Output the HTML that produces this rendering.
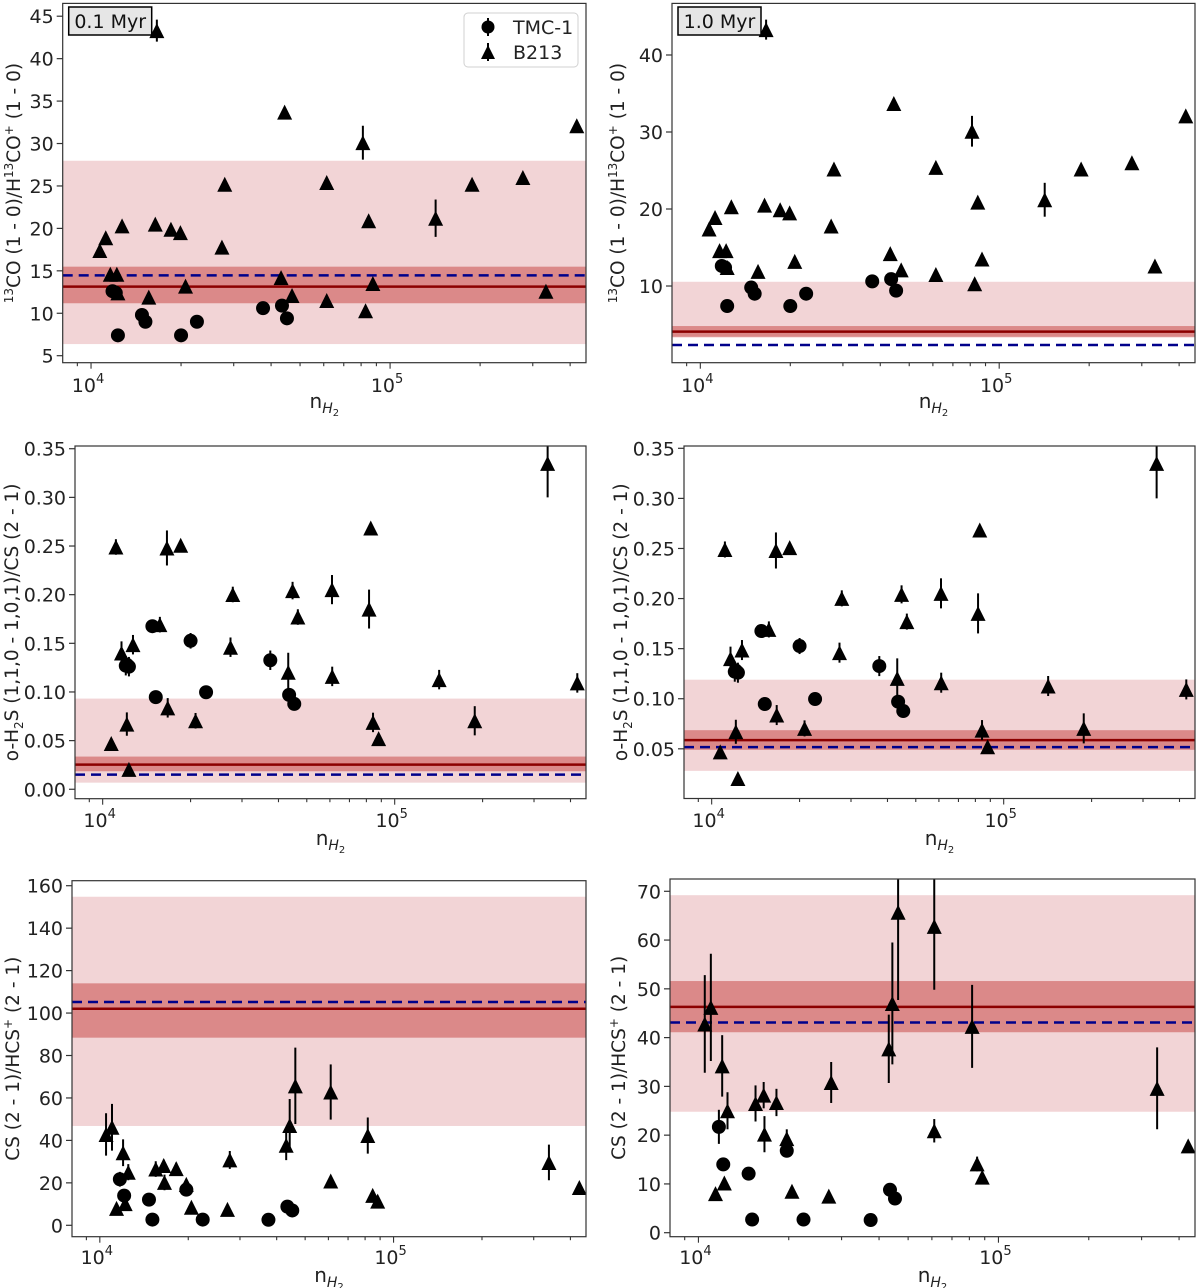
<!DOCTYPE html>
<html><head><meta charset="utf-8">
<style>
html,body{margin:0;padding:0;background:#fff;}
svg{display:block;font-family:"DejaVu Sans","Liberation Sans",sans-serif;}
</style></head>
<body>
<svg id="fig" width="1200" height="1288" viewBox="0 0 1200 1288" xmlns="http://www.w3.org/2000/svg"></svg>
<script>
// ---- data ----
const row1CircX = [1.18e4,1.21e4,1.23e4,1.48e4,1.52e4,2.0e4,2.26e4,3.76e4,4.35e4,4.52e4];
const row1CircY = [12.6,12.4,7.4,9.8,9.0,7.4,9.0,10.6,10.9,9.4];
const row1CircE = [0.3,0.3,0.3,0.3,0.3,0.3,0.3,0.3,0.3,0.3];
const row1TriX = [1.07e4,1.12e4,1.16e4,1.22e4,1.23e4,1.27e4,1.56e4,1.64e4,1.66e4,1.85e4,1.99e4,2.07e4,2.74e4,2.80e4,4.32e4,4.44e4,4.70e4,6.14e4,6.14e4,8.11e4,8.28e4,8.48e4,8.76e4,1.42e5,1.88e5,2.78e5,3.32e5,4.21e5];
const row1TriY = [17.4,18.9,14.6,14.6,12.4,20.3,11.9,20.5,43.3,19.9,19.5,13.2,17.8,25.2,14.2,33.7,12.1,25.4,11.5,30.1,10.3,20.9,13.5,21.2,25.2,26.0,12.6,32.1];
const row1TriE = [0.4,0.4,0.4,0.4,0.4,0.4,0.4,0.5,1.3,0.4,0.4,0.4,0.4,0.4,0.4,0.5,0.4,0.4,0.4,2.0,0.4,0.4,0.4,2.2,0.4,0.4,0.4,0.4];

const row2CircX = [1.20e4,1.21e4,1.23e4,1.48e4,1.52e4,2.0e4,2.26e4,3.75e4,4.35e4,4.53e4];
const row2CircY = [0.127,0.128,0.126,0.1676,0.0947,0.1526,0.0997,0.1326,0.097,0.0877];
const row2CircE = [0.01,0.003,0.01,0.004,0.003,0.008,0.003,0.01,0.003,0.003];
const row2TriX = [1.07e4,1.11e4,1.16e4,1.21e4,1.23e4,1.27e4,1.57e4,1.66e4,1.67e4,1.85e4,2.08e4,2.74e4,2.79e4,4.32e4,4.47e4,4.66e4,6.10e4,6.11e4,8.17e4,8.28e4,8.43e4,8.81e4,1.42e5,1.88e5,3.34e5,4.22e5];
const row2TriY = [0.047,0.249,0.140,0.067,0.0204,0.1486,0.1692,0.248,0.0837,0.2508,0.0704,0.146,0.2002,0.1203,0.2042,0.177,0.2052,0.116,0.1852,0.2685,0.0687,0.052,0.1127,0.0704,0.335,0.1093];
const row2TriE = [0.004,0.008,0.012,0.012,0.003,0.01,0.008,0.018,0.01,0.003,0.008,0.01,0.008,0.02,0.009,0.008,0.015,0.01,0.02,0.005,0.01,0.004,0.01,0.015,0.035,0.01];

const row3CircX = [1.17e4,1.21e4,1.47e4,1.51e4,1.97e4,2.24e4,3.75e4,4.35e4,4.52e4];
const row3CircY = [21.7,14.0,12.1,2.7,16.8,2.7,2.6,8.8,7.0];
const row3CircE = [3.5,0.5,0.5,0.3,1.0,0.3,0.3,0.5,0.5];
const row3TriX = [1.05e4,1.10e4,1.14e4,1.20e4,1.22e4,1.25e4,1.55e4,1.65e4,1.66e4,1.82e4,1.97e4,2.05e4,2.72e4,2.77e4,4.31e4,4.43e4,4.63e4,6.11e4,6.11e4,8.17e4,8.49e4,8.83e4,3.38e5,4.29e5];
const row3TriY = [42.8,46.2,8.0,34.2,10.2,25.0,26.5,28.2,20.2,26.7,19.3,8.5,7.5,30.8,37.7,47.0,65.7,62.8,20.9,42.3,14.1,11.4,29.6,17.8];
const row3TriE = [10,11,0.3,6.3,0.5,3.8,3.7,2.7,3.7,2.8,1.9,0.3,0.3,4.2,7,12.5,18,13,2.4,8.5,1.5,0.5,8.4,1];

// model bands: [lightLo, lightHi, darkLo, darkHi, solid, dashed]
const bandsP1 = [6.37,27.97,11.18,15.49,13.14,14.47];
const bandsP2 = [3.3,10.55,3.4,4.8,4.07,2.34];
const bandsP3 = [0.0068,0.0932,0.0185,0.0336,0.0253,0.0151];
const bandsP4 = [0.028,0.119,0.049,0.0686,0.0587,0.0517];
const bandsP5 = [46.8,154.8,88.4,114,102,105.2];
const bandsP6 = [24.8,69.2,41.1,51.6,46.3,43.1];

const yTicksP1 = [5,10,15,20,25,30,35,40,45];
const yTicksP2 = [10,20,30,40];
const yTicksP3 = [0,0.05,0.10,0.15,0.20,0.25,0.30,0.35];
const yTicksP4 = [0.05,0.10,0.15,0.20,0.25,0.30,0.35];
const yTicksP5 = [0,20,40,60,80,100,120,140,160];
const yTicksP6 = [0,10,20,30,40,50,60,70];
const xLim = [8.04e3, 4.52e5];

const NS = "http://www.w3.org/2000/svg";
const svg = document.getElementById('fig');
function mk(tag, attrs, parent){
  const e = document.createElementNS(NS, tag);
  for (const k in attrs) e.setAttribute(k, attrs[k]);
  (parent||svg).appendChild(e);
  return e;
}
const TF = 19;

const panels = [
  {id:'p1',L:62.7,R:586,T:3.4,B:362.7,y0:4.175,y1:46.51,ticks:yTicksP1,dec:0,cx:row1CircX,cy:row1CircY,ce:row1CircE,tx:row1TriX,ty:row1TriY,te:row1TriE,bands:bandsP1,ylab:'r1',ylx:12,xly:403,xtly:385,tag:'0.1 Myr',legend:true},
  {id:'p2',L:672,R:1195,T:3.4,B:362.7,y0:0.04,y1:46.7,ticks:yTicksP2,dec:0,cx:row1CircX,cy:row1CircY,ce:row1CircE,tx:row1TriX,ty:row1TriY,te:row1TriE,bands:bandsP2,ylab:'r1',ylx:616,xly:403,xtly:385,tag:'1.0 Myr'},
  {id:'p3',L:75,R:586,T:446,B:798.7,y0:-0.0097,y1:0.3528,ticks:yTicksP3,dec:2,cx:row2CircX,cy:row2CircY,ce:row2CircE,tx:row2TriX,ty:row2TriY,te:row2TriE,bands:bandsP3,ylab:'r2',ylx:10,xly:840,xtly:820},
  {id:'p4',L:684,R:1195,T:446,B:798.5,y0:0.0004,y1:0.3523,ticks:yTicksP4,dec:2,cx:row2CircX,cy:row2CircY,ce:row2CircE,tx:row2TriX,ty:row2TriY,te:row2TriE,bands:bandsP4,ylab:'r2',ylx:619,xly:840,xtly:820},
  {id:'p5',L:72,R:586,T:880.7,B:1236.7,y0:-5.37,y1:162.36,ticks:yTicksP5,dec:0,cx:row3CircX,cy:row3CircY,ce:row3CircE,tx:row3TriX,ty:row3TriY,te:row3TriE,bands:bandsP5,ylab:'r3',ylx:11,xly:1277,xtly:1257},
  {id:'p6',L:670,R:1195,T:879,B:1236.7,y0:-0.82,y1:72.52,ticks:yTicksP6,dec:0,cx:row3CircX,cy:row3CircY,ce:row3CircE,tx:row3TriX,ty:row3TriY,te:row3TriE,bands:bandsP6,ylab:'r3',ylx:617,xly:1277,xtly:1257}
];

function ylabelText(t, kind){
  if (kind==='r1'){
    let s=mk('tspan',{'font-size':'12','dy':'-7'},t); s.textContent='13';
    s=mk('tspan',{'dy':'7'},t); s.textContent='CO (1 - 0)/H';
    s=mk('tspan',{'font-size':'12','dy':'-7'},t); s.textContent='13';
    s=mk('tspan',{'dy':'7'},t); s.textContent='CO';
    s=mk('tspan',{'font-size':'12','dy':'-7'},t); s.textContent='+';
    s=mk('tspan',{'dy':'7'},t); s.textContent=' (1 - 0)';
  } else if (kind==='r2'){
    let s=mk('tspan',{},t); s.textContent='o-H';
    s=mk('tspan',{'font-size':'12','dy':'5'},t); s.textContent='2';
    s=mk('tspan',{'dy':'-5'},t); s.textContent='S (1,1,0 - 1,0,1)/CS (2 - 1)';
  } else {
    let s=mk('tspan',{},t); s.textContent='CS (2 - 1)/HCS';
    s=mk('tspan',{'font-size':'12','dy':'-7'},t); s.textContent='+';
    s=mk('tspan',{'dy':'7'},t); s.textContent=' (2 - 1)';
  }
}

function triPts(x,y,h){ return `${x},${y-h} ${x-h},${y+h} ${x+h},${y+h}`; }

panels.forEach((p,pi)=>{
  const g = mk('g',{});
  
  
  const lx0=Math.log10(xLim[0]), lx1=Math.log10(xLim[1]);
  const X = v => p.L + (Math.log10(v)-lx0)/(lx1-lx0)*(p.R-p.L);
  const Y = v => p.B - (v-p.y0)/(p.y1-p.y0)*(p.B-p.T);
  const cp = mk('clipPath',{id:'clip'+p.id},g);
  mk('rect',{x:p.L,y:p.T,width:p.R-p.L,height:p.B-p.T},cp);
  const plot = mk('g',{'clip-path':`url(#clip${p.id})`},g);
  const b = p.bands;
  const lb = mk('rect',{x:p.L,y:Y(b[1]),width:p.R-p.L,height:Y(b[0])-Y(b[1]),fill:'#f2d4d6'},plot);
  
  
  const db = mk('rect',{x:p.L,y:Y(b[3]),width:p.R-p.L,height:Y(b[2])-Y(b[3]),fill:'#db8989'},plot);
  
  
  const sl = mk('line',{x1:p.L,x2:p.R,y1:Y(b[4]),y2:Y(b[4]),stroke:'#8b0000','stroke-width':2.5},plot);
  
  
  const dl = mk('line',{x1:p.L,x2:p.R,y1:Y(b[5]),y2:Y(b[5]),stroke:'#00008b','stroke-width':2.5,'stroke-dasharray':'10,6'},plot);
  
  
  p.cx.forEach((xv,i)=>{
    const x=X(xv), y=Y(p.cy[i]), e=p.ce[i];
    const l = mk('line',{x1:x,x2:x,y1:Y(p.cy[i]+e),y2:Y(p.cy[i]-e),stroke:'#000','stroke-width':2},plot);
    
    
    const c = mk('circle',{cx:x,cy:y,r:7,fill:'#000'},plot);
    
    
  });
  p.tx.forEach((xv,i)=>{
    const x=X(xv), y=Y(p.ty[i]), e=p.te[i];
    const l = mk('line',{x1:x,x2:x,y1:Y(p.ty[i]+e),y2:Y(p.ty[i]-e),stroke:'#000','stroke-width':2},plot);
    
    
    const t = mk('polygon',{points:triPts(x,y,7.5),fill:'#000'},plot);
    
    
  });
  const fr = mk('rect',{x:p.L,y:p.T,width:p.R-p.L,height:p.B-p.T,fill:'none',stroke:'#333','stroke-width':1.2},g);
  
  
  p.ticks.forEach(v=>{
    const y=Y(v);
    mk('line',{x1:p.L-6,x2:p.L,y1:y,y2:y,stroke:'#333','stroke-width':1.2},g);
    const t=mk('text',{x:p.L-9,y:y+7,'font-size':TF,'text-anchor':'end',fill:'#222'},g);
    t.textContent = v.toFixed(p.dec);
    
    
  });
  for (let d=3; d<=5; d++){
    for (let m=1; m<=9; m++){
      const v=m*Math.pow(10,d);
      if (v<xLim[0]||v>xLim[1]) continue;
      const x=X(v);
      const major = (m===1);
      mk('line',{x1:x,x2:x,y1:p.B,y2:p.B+(major?6:3.5),stroke:'#333','stroke-width':1.1},g);
      if (major){
        const t=mk('text',{x:x-3,y:p.xtly+7,'font-size':TF,'text-anchor':'middle',fill:'#222'},g);
        
        
        let s=mk('tspan',{},t); s.textContent='10';
        s=mk('tspan',{'font-size':'13','dy':'-9'},t); s.textContent=String(d);
      }
    }
  }
  const xl=mk('text',{x:(p.L+p.R)/2,y:p.xly+5,'font-size':20,'text-anchor':'middle',fill:'#222'},g);
  
  
  let s=mk('tspan',{},xl); s.textContent='n';
  s=mk('tspan',{'font-size':'14','font-style':'italic','dy':'5'},xl); s.textContent='H';
  s=mk('tspan',{'font-size':'10','dy':'3'},xl); s.textContent='2';
  const cy=(p.T+p.B)/2;
  const yl=mk('text',{x:0,y:0,'font-size':18.5,'text-anchor':'middle',fill:'#222',transform:`translate(${p.ylx+8},${cy}) rotate(-90)`},g);
  
  
  ylabelText(yl,p.ylab);
  if (p.tag){
    const tg=mk('g',{},g);
    
    
    mk('rect',{x:p.L+6,y:7,width:83,height:28,fill:'#e6e6e6',stroke:'#000','stroke-width':1.5},tg);
    const tt=mk('text',{x:p.L+47.5,y:28,'font-size':TF,'text-anchor':'middle',fill:'#111'},tg);
    tt.textContent=p.tag;
  }
  if (p.legend){
    const lg=mk('g',{},g);
    
    
    mk('rect',{x:464,y:13,width:114,height:54,rx:4,fill:'#fff',stroke:'#d0d0d0','stroke-width':1},lg);
    mk('line',{x1:488,x2:488,y1:18,y2:36,stroke:'#000','stroke-width':2},lg);
    mk('circle',{cx:488,cy:27,r:6.5,fill:'#000'},lg);
    const t1=mk('text',{x:513,y:34,'font-size':TF,fill:'#222'},lg); t1.textContent='TMC-1';
    
    
    mk('line',{x1:488,x2:488,y1:43,y2:61,stroke:'#000','stroke-width':2},lg);
    mk('polygon',{points:triPts(488,52,7),fill:'#000'},lg);
    const t2=mk('text',{x:513,y:59,'font-size':TF,fill:'#222'},lg); t2.textContent='B213';
    
    
  }
});
</script>
</body></html>
